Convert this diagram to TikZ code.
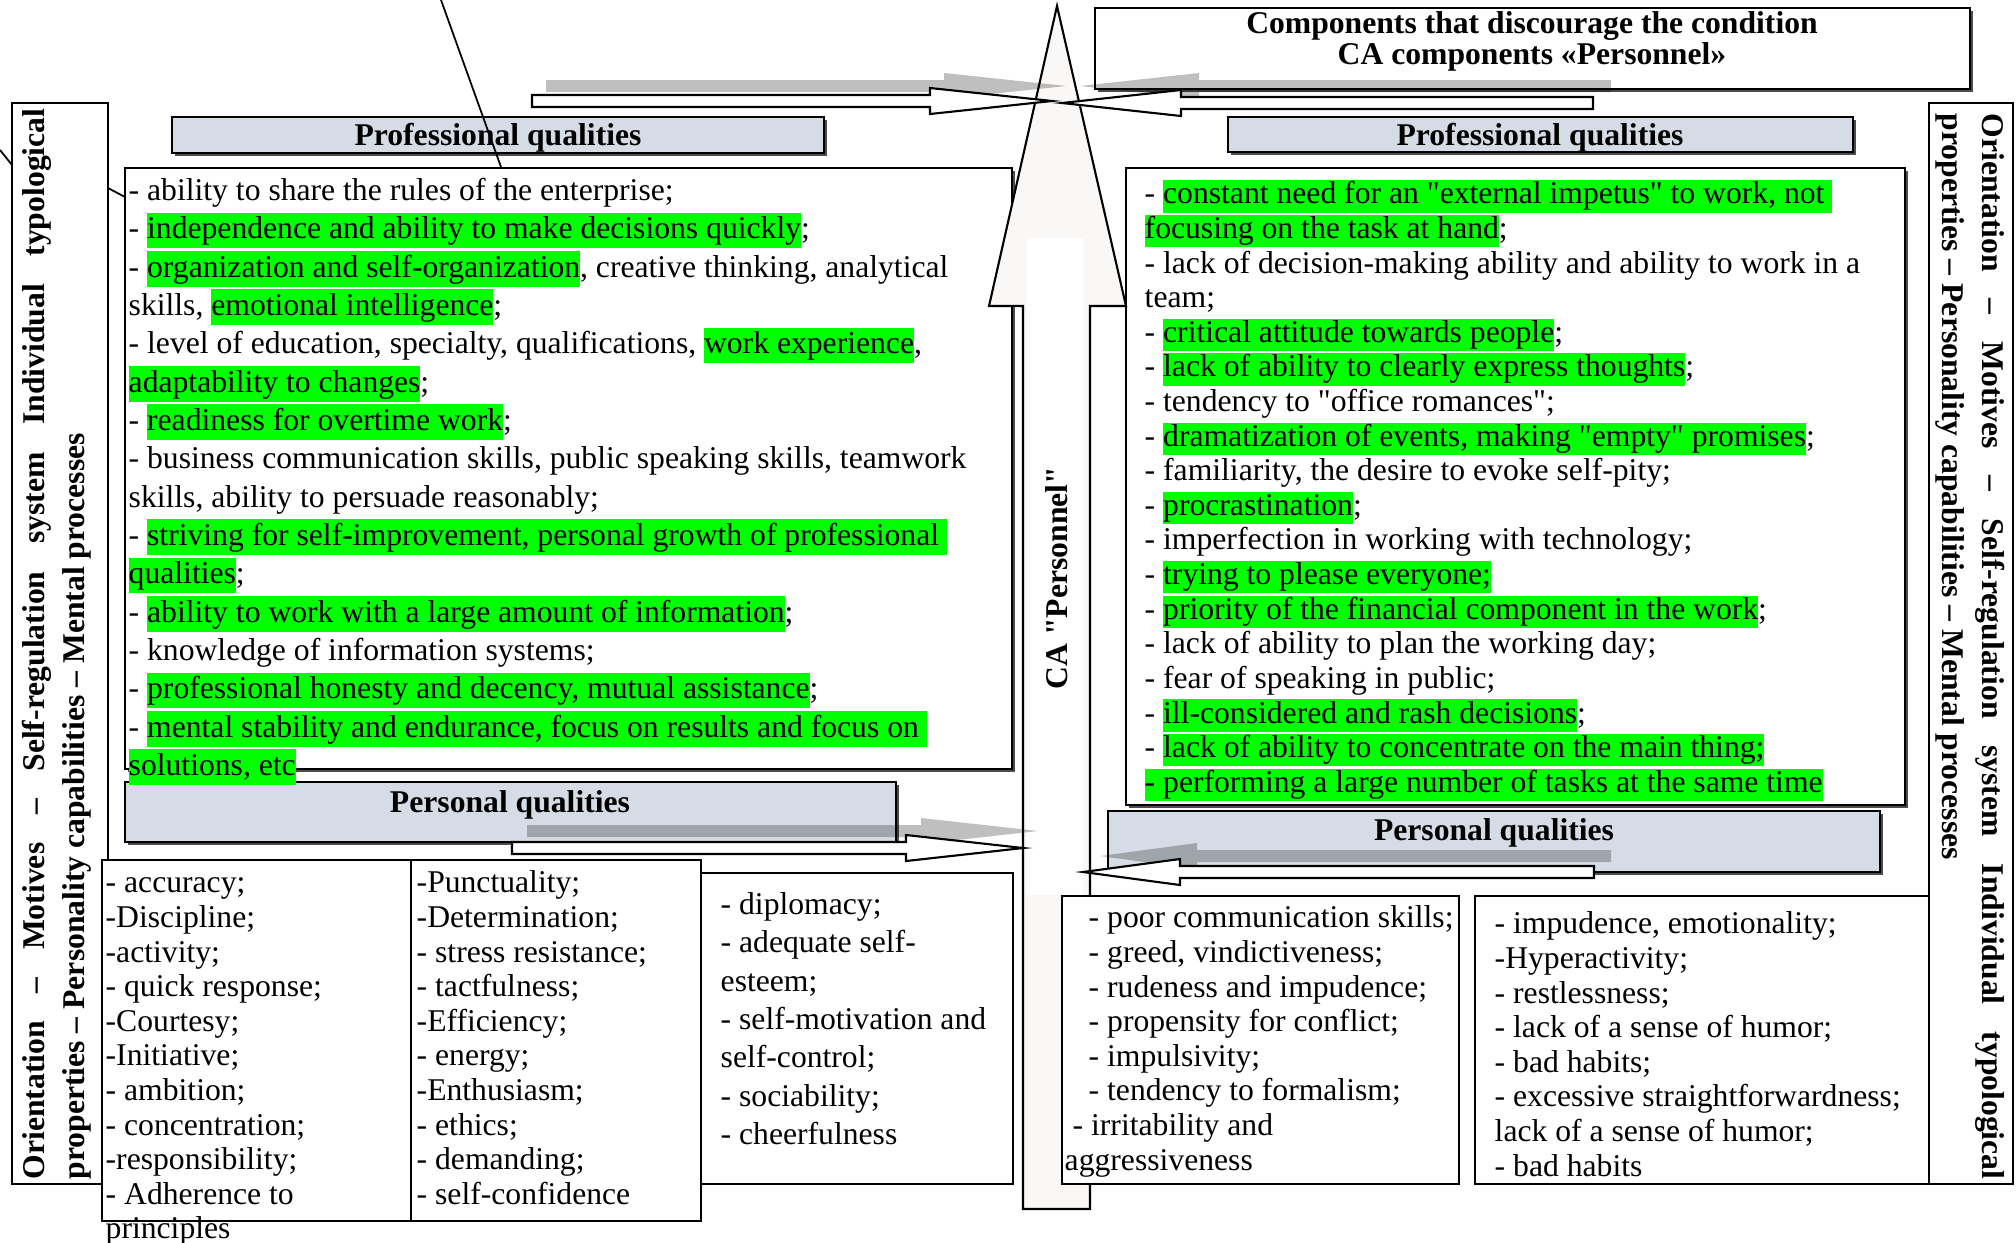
\documentclass[tikz,border=0pt]{standalone}
\usepackage{fontspec}
\setmainfont{Liberation Serif}
\usetikzlibrary{shadows}
\definecolor{headblue}{RGB}{214,220,229}
\definecolor{hlgreen}{RGB}{0,255,0}
\definecolor{arrowfill}{RGB}{249,248,246}
\newcommand{\hl}[1]{{\setlength{\fboxsep}{0pt}\colorbox{hlgreen}{\rule[-0.25\baselineskip]{0pt}{0.93\baselineskip}#1}}}
\newcommand{\q}{\textquotedbl}
\tikzset{
  box/.style={draw, line width=0.6pt, fill=white},
  boxshadow/.style={box, drop shadow={shadow xshift=0.025cm, shadow yshift=-0.025cm, fill=black!70, opacity=1}},
  headbox/.style={boxshadow, fill=headblue},
  headtxt/.style={inner sep=0pt, font=\bfseries\fontsize{9}{10}\selectfont},
  sidetxt/.style={inner sep=0pt, anchor=west, font=\bfseries\fontsize{9}{10}\selectfont},
  listtxt/.style={inner sep=0pt, anchor=north west, align=left, font=\fontsize{9}{9.84}\selectfont},
  widetxt/.style={listtxt, font=\fontsize{9}{10.9}\selectfont},
  blockarrow/.style={draw, fill=white, line width=0.6pt},
  shadowarrow/.style={fill=black, fill opacity=0.25}
}
\begin{document}
\begin{tikzpicture}[x=0.01cm,y=-0.01cm]
\useasboundingbox (0,0) rectangle (2016,1242);
% side columns
\draw[box] (12,103) rectangle (108,1184);
\node[sidetxt,rotate=90] (sideL1) at (37,1180) {\makebox[10.7cm][s]{Orientation – Motives – Self-regulation system Individual typological}};
\node[sidetxt,rotate=90] (sideL2) at (77,1180) {properties – Personality capabilities – Mental processes};
\draw[box] (1929,103) rectangle (2013,1184);
\node[sidetxt,rotate=-90] (sideR1) at (1990,113) {\makebox[10.65cm][s]{Orientation – Motives – Self-regulation system Individual typological}};
\node[sidetxt,rotate=-90] (sideR2) at (1950,113) {properties – Personality capabilities – Mental processes};
% professional qualities
\draw[boxshadow] (125,168) rectangle (1012,769);
\draw[boxshadow] (1126,168) rectangle (1905,805);
\draw[headbox] (172,117) rectangle (824,153);
\node[headtxt] (profL) at (498,138) {Professional qualities};
\draw[headbox] (1228,117) rectangle (1853,152);
\node[headtxt] (profR) at (1540,138) {Professional qualities};
\draw[boxshadow] (1095,8) rectangle (1970,89);
\node[headtxt,align=center,font=\bfseries\fontsize{9}{8.8}\selectfont] (comp) at (1532,41) {Components that discourage the condition\\CA components «Personnel»};
% central arrow
\draw[fill=arrowfill,line width=0.6pt] (1057,6) -- (1126,306) -- (1090,306) -- (1090,1209) -- (1023,1209) -- (1023,306) -- (989,306) -- cycle;
\fill[white] (1027,238) rectangle (1083,895);
\node[headtxt,rotate=90] (ca) at (1057,578) {CA \q Personnel\q};
% personal qualities
\draw[headbox] (125,782) rectangle (896,842);
\node[headtxt] (persL) at (510,805) {Personal qualities};
\draw[headbox] (1108,811) rectangle (1880,872);
\node[headtxt] (persR) at (1494,833) {Personal qualities};
\draw[box] (102,860) rectangle (701,1221);
\draw[line width=0.6pt] (411,860) -- (411,1221);
\draw[box] (701,873) rectangle (1013,1184);
\draw[box] (1062,896) rectangle (1459,1184);
\draw[box] (1475,896) rectangle (1929,1184);
% arrows into the centre
\fill[shadowarrow,shift={(14,-15)}] (532,95) -- (930,95) -- (930,88) -- (1052,101) -- (930,114) -- (930,107) -- (532,107) -- cycle;
\draw[blockarrow] (532,95) -- (930,95) -- (930,88) -- (1052,101) -- (930,114) -- (930,107) -- (532,107) -- cycle;
\fill[shadowarrow,shift={(18,-17)}] (1593,97) -- (1181,97) -- (1181,90) -- (1062,103) -- (1181,116) -- (1181,109) -- (1593,109) -- cycle;
\draw[blockarrow] (1593,97) -- (1181,97) -- (1181,90) -- (1062,103) -- (1181,116) -- (1181,109) -- (1593,109) -- cycle;
\fill[shadowarrow,shift={(15,-17)}] (512,842) -- (906,842) -- (906,835) -- (1023,848) -- (906,861) -- (906,854) -- (512,854) -- cycle;
\draw[blockarrow] (512,842) -- (906,842) -- (906,835) -- (1023,848) -- (906,861) -- (906,854) -- (512,854) -- cycle;
\fill[shadowarrow,shift={(17,-16)}] (1594,866) -- (1180,866) -- (1180,859) -- (1083,872) -- (1180,885) -- (1180,878) -- (1594,878) -- cycle;
\draw[blockarrow] (1594,866) -- (1180,866) -- (1180,859) -- (1083,872) -- (1180,885) -- (1180,878) -- (1594,878) -- cycle;
% texts
\node[widetxt] (profLtxt) at (128,173) {\strut- ability to share the rules of the enterprise;\\
- \hl{independence and ability to make decisions quickly};\\
- \hl{organization and self-organization}, creative thinking, analytical\\
skills, \hl{emotional intelligence};\\
- level of education, specialty, qualifications, \hl{work experience},\\
\hl{adaptability to changes};\\
- \hl{readiness for overtime work};\\
- business communication skills, public speaking skills, teamwork\\
skills, ability to persuade reasonably;\\
- \hl{striving for self-improvement, personal growth of professional }\\
\hl{qualities};\\
- \hl{ability to work with a large amount of information};\\
- knowledge of information systems;\\
- \hl{professional honesty and decency, mutual assistance};\\
- \hl{mental stability and endurance, focus on results and focus on }\\
\hl{solutions, etc}};
\node[listtxt] (profRtxt) at (1144,179) {\strut- \hl{constant need for an \q external impetus\q\ to work, not }\\
\hl{focusing on the task at hand};\\
- lack of decision-making ability and ability to work in a\\
team;\\
- \hl{critical attitude towards people};\\
- \hl{lack of ability to clearly express thoughts};\\
- tendency to \q office romances\q;\\
- \hl{dramatization of events, making \q empty\q\ promises};\\
- familiarity, the desire to evoke self-pity;\\
- \hl{procrastination};\\
- imperfection in working with technology;\\
- \hl{trying to please everyone;}\\
- \hl{priority of the financial component in the work};\\
- lack of ability to plan the working day;\\
- fear of speaking in public;\\
- \hl{ill-considered and rash decisions};\\
- \hl{lack of ability to concentrate on the main thing;}\\
\hl{- performing a large number of tasks at the same time}};
\node[listtxt] (persL1) at (105,868) {\strut- accuracy;\\-Discipline;\\-activity;\\- quick response;\\-Courtesy;\\-Initiative;\\- ambition;\\- concentration;\\-responsibility;\\- Adherence to\\principles};
\node[listtxt] (persL2) at (416,868) {\strut-Punctuality;\\-Determination;\\- stress resistance;\\- tactfulness;\\-Efficiency;\\- energy;\\-Enthusiasm;\\- ethics;\\- demanding;\\- self-confidence};
\node[widetxt] (persL3) at (720,887) {\strut- diplomacy;\\- adequate self-\\esteem;\\- self-motivation and\\self-control;\\- sociability;\\- cheerfulness};
\node[listtxt] (persR1) at (1064,903) {\strut\hspace{0.24cm}- poor communication skills;\\
\hspace{0.24cm}- greed, vindictiveness;\\
\hspace{0.24cm}- rudeness and impudence;\\
\hspace{0.24cm}- propensity for conflict;\\
\hspace{0.24cm}- impulsivity;\\
\hspace{0.24cm}- tendency to formalism;\\
\hspace{0.08cm}- irritability and\\
aggressiveness};
\node[listtxt] (persR2) at (1494,909) {\strut- impudence, emotionality;\\-Hyperactivity;\\- restlessness;\\- lack of a sense of humor;\\- bad habits;\\- excessive straightforwardness;\\lack of a sense of humor;\\- bad habits};
% loose lines
\draw[line width=0.5pt] (441,0) -- (501,167);
\draw[line width=0.5pt] (0,150) -- (12,165);
\draw[line width=0.5pt] (108,188) -- (125,197);
\end{tikzpicture}
\end{document}
